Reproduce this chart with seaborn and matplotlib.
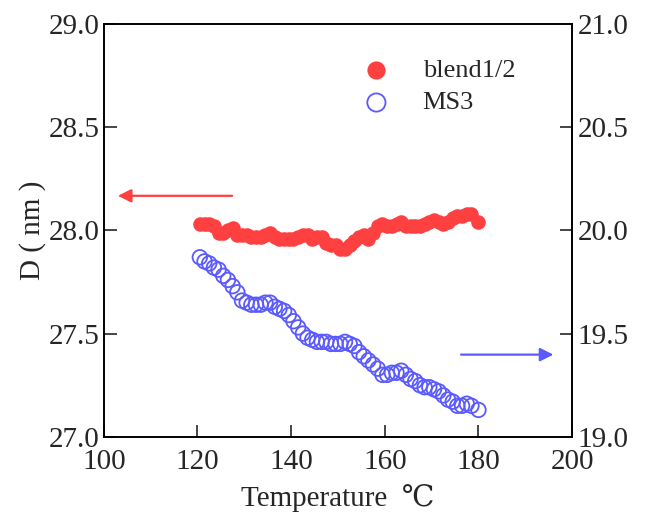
import numpy as np
import pandas as pd
import matplotlib
matplotlib.use("Agg")
import matplotlib.pyplot as plt
import seaborn as sns

# temperature (deg C) for each measurement
temperature = [120.5, 121.5, 122.5, 123.5, 124.5, 125.5, 126.5, 127.5, 128.5, 129.5,
               130.5, 131.5, 132.5, 133.5, 134.5, 135.5, 136.5, 137.5, 138.5, 139.5,
               140.5, 141.5, 142.5, 143.5, 144.5, 145.5, 146.5, 147.5, 148.5, 149.5,
               150.5, 151.5, 152.5, 153.5, 154.5, 155.5, 156.5, 157.5, 158.5, 159.5,
               160.5, 161.5, 162.5, 163.5, 164.5, 165.5, 166.5, 167.5, 168.5, 169.5,
               170.5, 171.5, 172.5, 173.5, 174.5, 175.5, 176.5, 177.5, 178.5, 180.0]

# blend1/2 domain size (left axis, nm)
d_blend = [28.03, 28.03, 28.03, 28.02, 27.99, 27.99, 28.00, 28.01, 27.98, 27.98,
           27.98, 27.97, 27.97, 27.97, 27.98, 27.99, 27.97, 27.96, 27.96, 27.96,
           27.96, 27.97, 27.98, 27.98, 27.96, 27.97, 27.97, 27.94, 27.93, 27.93,
           27.91, 27.91, 27.93, 27.95, 27.97, 27.98, 27.96, 27.99, 28.02, 28.03,
           28.02, 28.02, 28.03, 28.04, 28.02, 28.02, 28.02, 28.02, 28.03, 28.04,
           28.05, 28.04, 28.03, 28.04, 28.06, 28.07, 28.07, 28.08, 28.08, 28.04]

# MS3 domain size (right axis, nm)
d_ms3 = [19.87, 19.85, 19.84, 19.82, 19.81, 19.78, 19.76, 19.73, 19.70, 19.66,
         19.65, 19.64, 19.64, 19.64, 19.65, 19.65, 19.63, 19.62, 19.61, 19.59,
         19.56, 19.53, 19.50, 19.48, 19.47, 19.46, 19.46, 19.46, 19.45, 19.45,
         19.45, 19.46, 19.45, 19.44, 19.41, 19.39, 19.37, 19.35, 19.33, 19.30,
         19.30, 19.31, 19.31, 19.32, 19.30, 19.28, 19.27, 19.25, 19.24, 19.24,
         19.23, 19.22, 19.20, 19.18, 19.17, 19.15, 19.15, 19.16, 19.15, 19.13]

df = pd.DataFrame({"T": temperature, "blend": d_blend, "ms3": d_ms3})

red = "#ff4040"
blue = "#5a5aff"

sns.set_style("ticks")
plt.rcParams["font.family"] = ["Liberation Serif", "DejaVu Serif"]
plt.rcParams["axes.linewidth"] = 1.2

fig = plt.figure(figsize=(6.45, 5.15), dpi=100)
ax = fig.add_axes([0.161, 0.152, 0.726, 0.801])
ax2 = ax.twinx()

sns.scatterplot(data=df, x="T", y="blend", ax=ax, color=red, s=110,
                edgecolor=red, linewidth=0, label="blend1/2", legend=False, zorder=3)
sns.scatterplot(data=df, x="T", y="ms3", ax=ax2, s=110, marker="o",
                facecolor="none", edgecolor=blue, linewidth=1.3,
                label="MS3", legend=False, zorder=3)

ax.set_xlim(100, 200)
ax.set_ylim(27.0, 29.0)
ax2.set_ylim(19.0, 21.0)
ax.set_xticks([100, 120, 140, 160, 180, 200])
ax.set_yticks([27.0, 27.5, 28.0, 28.5, 29.0])
ax2.set_yticks([19.0, 19.5, 20.0, 20.5, 21.0])
ax.yaxis.set_major_formatter(matplotlib.ticker.FormatStrFormatter("%.1f"))
ax2.yaxis.set_major_formatter(matplotlib.ticker.FormatStrFormatter("%.1f"))

ax.tick_params(direction="in", length=9, width=1.2, labelsize=21, pad=3)
ax.tick_params(axis="x", pad=9)
ax2.tick_params(direction="in", length=9, width=1.2, labelsize=21, pad=4)
for a in (ax, ax2):
    for sp in a.spines.values():
        sp.set_visible(True)
        sp.set_linewidth(1.2)
        sp.set_color("black")

ax.set_xlabel("Temperature  \u2103", fontsize=21, labelpad=6)
ax.set_ylabel("D ( nm )", fontsize=21, labelpad=2)
ax2.set_ylabel("")

# arrows pointing to the axis each series belongs to
ax.annotate("", xy=(0.024, 0.584), xytext=(0.28, 0.584), xycoords="axes fraction",
            arrowprops=dict(arrowstyle="-|>", color=red, lw=1.6, mutation_scale=20))
ax.annotate("", xy=(0.966, 0.199), xytext=(0.757, 0.199), xycoords="axes fraction",
            arrowprops=dict(arrowstyle="-|>", color=blue, lw=1.6, mutation_scale=20))

h1, l1 = ax.get_legend_handles_labels()
h2, l2 = ax2.get_legend_handles_labels()
ax2.legend(h1 + h2, l1 + l2, loc="upper left", bbox_to_anchor=(0.475, 0.975),
           frameon=False, fontsize=19, handletextpad=0.75, labelspacing=0.35,
           markerscale=1.25)

fig.savefig("out.png", dpi=100)
